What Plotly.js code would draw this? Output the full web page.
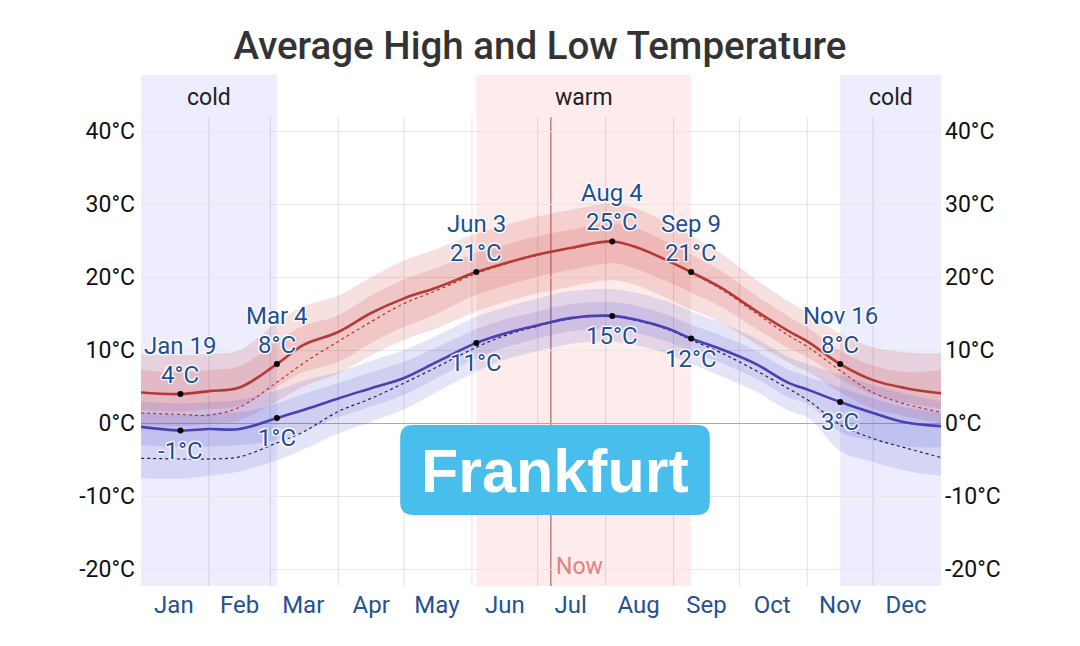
<!DOCTYPE html>
<html>
<head>
<meta charset="utf-8">
<script src="https://cdn.plot.ly/plotly-3.0.1.min.js"></script>
<style>html,body{margin:0;padding:0;background:#fff;}#chart{width:1080px;height:646px;}</style>
</head>
<body>
<div id="chart"></div>
<script>
// Day of year (0 = Jan 1)
const days      = [0, 18, 31, 45, 62, 74, 90, 105, 120, 135, 153, 166, 181, 196, 215, 227, 240, 251, 265, 280, 295, 305, 319, 334, 349, 365];
// Average daily high and percentile bands (°C)
const high      = [4.2, 4.0, 4.4, 4.9, 8.1, 10.7, 12.5, 15.1, 17.1, 18.6, 20.7, 21.9, 23.1, 24.0, 24.9, 24.0, 22.3, 20.7, 18.5, 15.5, 12.7, 11.0, 8.1, 5.9, 4.8, 4.1];
const highP10   = [-0.2, -0.4, -0.1, 0.4, 3.0, 5.0, 6.8, 9.3, 11.4, 13.0, 15.3, 16.6, 17.8, 18.7, 19.6, 18.8, 17.1, 15.6, 13.7, 11.0, 8.4, 6.9, 4.2, 2.0, 0.9, 0.0];
const highP25   = [1.8, 1.6, 1.9, 2.4, 5.0, 7.0, 8.4, 11.0, 13.2, 15.0, 17.6, 18.8, 20.1, 21.0, 21.9, 21.0, 19.4, 17.9, 15.9, 13.1, 10.4, 8.9, 6.1, 3.9, 2.8, 2.0];
const highP75   = [7.3, 7.0, 7.3, 7.8, 11.2, 13.3, 14.8, 17.5, 19.7, 21.3, 23.3, 24.4, 25.6, 26.5, 27.4, 26.6, 24.8, 23.1, 20.8, 17.6, 14.7, 12.9, 9.9, 7.9, 7.0, 7.3];
const highP90   = [9.5, 9.3, 9.5, 10.0, 13.8, 16.0, 17.5, 20.0, 22.3, 23.9, 26.0, 27.1, 28.3, 29.2, 30.1, 29.3, 27.4, 25.7, 23.2, 19.8, 16.8, 15.0, 12.3, 10.4, 9.7, 9.6];
// Average daily low and percentile bands (°C)
const low       = [-0.5, -1.0, -0.8, -0.8, 0.7, 1.8, 3.4, 4.8, 6.2, 8.4, 11.0, 12.3, 13.4, 14.4, 14.7, 14.1, 13.0, 11.6, 10.1, 8.2, 5.6, 4.5, 2.9, 1.4, 0.1, -0.4];
const lowP10    = [-7.5, -7.6, -7.2, -6.6, -5.1, -3.6, -1.4, 0.2, 1.9, 4.3, 7.1, 8.7, 9.9, 10.9, 11.2, 10.6, 9.5, 8.1, 6.4, 4.4, 1.8, 0.6, -3.8, -5.3, -6.5, -7.2];
const lowP25    = [-3.0, -3.3, -3.2, -3.0, -2.3, -1.2, 0.8, 2.3, 3.9, 6.2, 8.9, 10.4, 11.6, 12.6, 12.9, 12.3, 11.2, 9.8, 8.2, 6.2, 3.6, 2.5, -1.2, -2.4, -3.2, -3.3];
const lowP75    = [1.4, 1.1, 1.3, 1.5, 2.7, 4.0, 5.5, 7.0, 8.4, 10.4, 12.9, 14.2, 15.3, 16.3, 16.6, 16.0, 14.9, 13.5, 12.0, 10.0, 7.4, 6.3, 4.9, 3.4, 2.2, 1.4];
const lowP90    = [3.0, 2.7, 2.9, 3.2, 4.5, 5.8, 7.0, 8.6, 10.0, 12.0, 14.6, 15.9, 17.1, 18.1, 18.4, 17.8, 16.7, 15.3, 13.7, 11.7, 9.1, 8.0, 6.6, 5.2, 4.0, 3.0];
// Perceived (feels-like) high and low (°C)
const highFeels = [1.4, 1.2, 1.1, 2.2, 5.6, 8.2, 11.2, 13.9, 16.4, 18.2, 20.5, 21.8, 23.0, 24.0, 24.9, 24.0, 22.3, 20.6, 18.3, 15.2, 12.1, 10.3, 7.2, 4.2, 2.6, 1.5];
const lowFeels  = [-4.8, -4.9, -4.9, -4.6, -2.7, -1.2, 1.6, 3.4, 5.5, 7.7, 10.4, 12.0, 13.3, 14.3, 14.7, 14.0, 12.9, 11.4, 9.6, 7.3, 4.8, 3.0, -0.2, -2.1, -3.4, -4.7];

// Highlighted days
const markDays   = [18, 62, 153, 215, 251, 319];
const markLabels = ['Jan 19', 'Mar 4', 'Jun 3', 'Aug 4', 'Sep 9', 'Nov 16'];
const markHigh   = [4, 8, 21, 25, 21, 8];
const markLow    = [-1, 1, 11, 15, 12, 3];

// Seasons and "now"
const coldSeasons = [[0, 62], [319, 365]];
const warmSeason  = [153, 251];
const nowDay      = 187;

// Axis ticks
const monthStarts = [31, 59, 90, 120, 151, 181, 212, 243, 273, 304, 334];
const monthMids   = [15, 45, 74, 105, 135, 166, 196, 227, 258, 288, 319, 349];
const monthNames  = ['Jan','Feb','Mar','Apr','May','Jun','Jul','Aug','Sep','Oct','Nov','Dec'];
const yTicks      = [-20, -10, 0, 10, 20, 30, 40];
const yTickText   = ['-20°C', '-10°C', '0°C', '10°C', '20°C', '30°C', '40°C'];

const FONT = 'Roboto, "Open Sans", sans-serif';
const redOuter  = 'rgba(205,60,60,0.16)';
const redInner  = 'rgba(205,60,60,0.16)';
const blueOuter = 'rgba(80,80,205,0.15)';
const blueInner = 'rgba(80,80,205,0.15)';

function band(lo, hi, color) {
  return [
    {x: days, y: lo, mode: 'lines', line: {width: 0, shape: 'spline'}, hoverinfo: 'skip', showlegend: false},
    {x: days, y: hi, mode: 'lines', line: {width: 0, shape: 'spline'}, fill: 'tonexty', fillcolor: color, hoverinfo: 'skip', showlegend: false}
  ];
}

const traces = [].concat(
  band(highP10, highP90, redOuter),
  band(highP25, highP75, redInner),
  band(lowP10, lowP90, blueOuter),
  band(lowP25, lowP75, blueInner),
  [
    {x: days, y: highFeels, mode: 'lines', line: {color: '#b8302c', width: 1.2, dash: 'dot', shape: 'spline'}, hoverinfo: 'skip', showlegend: false},
    {x: days, y: lowFeels, mode: 'lines', line: {color: '#202050', width: 1.2, dash: 'dot', shape: 'spline'}, hoverinfo: 'skip', showlegend: false},
    {x: days, y: high, mode: 'lines', line: {color: '#b33a36', width: 2.6, shape: 'spline'}, hoverinfo: 'skip', showlegend: false},
    {x: days, y: low, mode: 'lines', line: {color: '#4a3fb3', width: 2.6, shape: 'spline'}, hoverinfo: 'skip', showlegend: false},
    {x: markDays, y: markDays.map(d => high[days.indexOf(d)]), mode: 'markers', marker: {color: '#000', size: 6}, hoverinfo: 'skip', showlegend: false},
    {x: markDays, y: markDays.map(d => low[days.indexOf(d)]), mode: 'markers', marker: {color: '#000', size: 6}, hoverinfo: 'skip', showlegend: false},
    {x: [null], y: [null], yaxis: 'y2', mode: 'markers', hoverinfo: 'skip', showlegend: false}
  ]
);

const yMin = -22.3, yMax = 47.7, gridTop = 41.9;

const shapes = [];
coldSeasons.forEach(s => shapes.push({type: 'rect', layer: 'below', xref: 'x', yref: 'paper', x0: s[0], x1: s[1], y0: 0, y1: 1, fillcolor: '#ededfd', line: {width: 0}}));
shapes.push({type: 'rect', layer: 'below', xref: 'x', yref: 'paper', x0: warmSeason[0], x1: warmSeason[1], y0: 0, y1: 1, fillcolor: '#fdeceb', line: {width: 0}});
monthStarts.forEach(d => shapes.push({type: 'line', layer: 'below', xref: 'x', yref: 'y', x0: d, x1: d, y0: yMin, y1: gridTop, line: {color: 'rgba(0,0,0,0.12)', width: 1}}));
shapes.push({type: 'line', layer: 'below', xref: 'x', yref: 'y', x0: nowDay, x1: nowDay, y0: yMin, y1: gridTop, line: {color: '#b88080', width: 1.5}});

// Frankfurt badge (rounded rectangle, paper coords)
(function () {
  const x0 = 0.324, x1 = 0.711, y0 = 0.139, y1 = 0.315, rx = 0.016, ry = 0.025;
  const p = `M ${x0 + rx} ${y1} L ${x1 - rx} ${y1} Q ${x1} ${y1} ${x1} ${y1 - ry} L ${x1} ${y0 + ry} Q ${x1} ${y0} ${x1 - rx} ${y0} L ${x0 + rx} ${y0} Q ${x0} ${y0} ${x0} ${y0 + ry} L ${x0} ${y1 - ry} Q ${x0} ${y1} ${x0 + rx} ${y1} Z`;
  shapes.push({type: 'path', layer: 'above', xref: 'paper', yref: 'paper', path: p, fillcolor: '#47beec', line: {width: 0}});
})();

const halo = '1px 1px 1px #fff, -1px -1px 1px #fff, 1px -1px 1px #fff, -1px 1px 1px #fff, 0 0 3px #fff';
const annColor = '#1f4f94';
const ANN = 24;
const annotations = [];
markDays.forEach((d, i) => {
  const hy = high[days.indexOf(d)], ly = low[days.indexOf(d)];
  annotations.push({x: d, y: hy, xref: 'x', yref: 'y', text: markLabels[i], showarrow: false, yanchor: 'middle', yshift: 48, font: {family: FONT, size: ANN, color: annColor, shadow: halo}});
  annotations.push({x: d, y: hy, xref: 'x', yref: 'y', text: markHigh[i] + '°C', showarrow: false, yanchor: 'middle', yshift: 19, font: {family: FONT, size: ANN, color: annColor, shadow: halo}});
  annotations.push({x: d, y: ly, xref: 'x', yref: 'y', text: markLow[i] + '°C', showarrow: false, yanchor: 'middle', yshift: -20, font: {family: FONT, size: ANN, color: annColor, shadow: halo}});
});
coldSeasons.forEach(s => annotations.push({x: (s[0] + s[1]) / 2, y: 0.955, xref: 'x', yref: 'paper', text: 'cold', showarrow: false, yanchor: 'middle', font: {family: FONT, size: 23, color: '#222'}}));
annotations.push({x: (warmSeason[0] + warmSeason[1]) / 2, y: 0.955, xref: 'x', yref: 'paper', text: 'warm', showarrow: false, yanchor: 'middle', font: {family: FONT, size: 23, color: '#222'}});
annotations.push({x: nowDay, y: 0.039, xref: 'x', yref: 'paper', text: 'Now', xanchor: 'left', yanchor: 'middle', xshift: 3, showarrow: false, font: {family: FONT, size: 23, color: '#e38080'}});
annotations.push({x: 0.5175, y: 0.225, xref: 'paper', yref: 'paper', text: 'Frankfurt', xanchor: 'center', yanchor: 'middle', showarrow: false, font: {family: '"Liberation Sans", Arial, sans-serif', size: 61, color: '#fff', weight: 700}});

const layout = {
  width: 1080, height: 646,
  margin: {l: 141, r: 139, t: 75, b: 60},
  paper_bgcolor: '#fff', plot_bgcolor: 'rgba(0,0,0,0)',
  title: {text: 'Average High and Low Temperature', x: 0.5, xanchor: 'center', y: 0.929, yanchor: 'middle', yref: 'container',
          font: {family: FONT, size: 38.5, color: '#333', weight: 500}},
  xaxis: {range: [0, 365], tickvals: monthMids, ticktext: monthNames, showgrid: false, zeroline: false, showline: false,
          ticks: '', ticklabelstandoff: 2, tickfont: {family: FONT, size: 24, color: '#245290'}, fixedrange: true},
  yaxis: {range: [yMin, yMax], tickvals: yTicks, ticktext: yTickText, showgrid: true, gridcolor: '#e6e6e6', gridwidth: 1,
          zeroline: true, zerolinecolor: '#aaaaaa', zerolinewidth: 1, showline: false, ticks: '', ticklabelstandoff: 5,
          tickfont: {family: FONT, size: 23, color: '#111'}, fixedrange: true},
  yaxis2: {range: [yMin, yMax], overlaying: 'y', side: 'right', tickvals: yTicks, ticktext: yTickText, showgrid: false,
           zeroline: false, showline: false, ticks: '', ticklabelstandoff: 3, tickfont: {family: FONT, size: 23, color: '#111'}, fixedrange: true},
  shapes: shapes,
  annotations: annotations,
  showlegend: false
};

Plotly.newPlot('chart', traces, layout, {displayModeBar: false, staticPlot: true});
</script>
</body>
</html>
